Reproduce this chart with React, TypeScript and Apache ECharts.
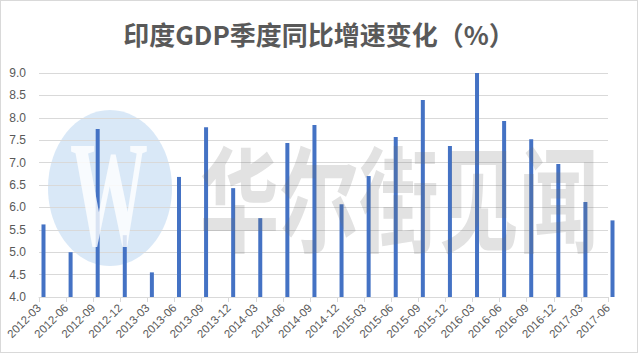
import React, { useEffect, useRef } from "react";
import * as echarts from "echarts";

const categories = [
  "2012-03", "2012-06", "2012-09", "2012-12",
  "2013-03", "2013-06", "2013-09", "2013-12",
  "2014-03", "2014-06", "2014-09", "2014-12",
  "2015-03", "2015-06", "2015-09", "2015-12",
  "2016-03", "2016-06", "2016-09", "2016-12",
  "2017-03", "2017-06",
];

const gdpGrowth = [
  5.62, 5.0, 7.75, 5.38,
  4.55, 6.68, 7.79, 6.43,
  5.76, 7.44, 7.84, 6.07,
  6.7, 7.57, 8.4, 7.37,
  9.0, 7.93, 7.52, 6.97,
  6.12, 5.71,
];

const yTicks = { min: 4, max: 9, interval: 0.5 };

const titleText = "印度GDP季度同比增速变化（%）";
const watermarkText = "华尔街见闻";

export default function App() {
  const ref = useRef<HTMLDivElement>(null);

  useEffect(() => {
    document.body.style.margin = "0";
    if (!ref.current) return;
    const chart = echarts.init(ref.current, undefined, { renderer: "svg" });
    chart.setOption({
      animation: false,
      backgroundColor: "#ffffff",
      title: {
        text: titleText,
        left: "center",
        top: 14,
        textStyle: {
          fontFamily: "Noto Sans CJK SC",
          fontSize: 26,
          fontWeight: "bold",
          color: "#595959",
        },
      },
      grid: { left: 38, right: 29, top: 72, bottom: 55 },
      xAxis: {
        type: "category",
        data: categories,
        boundaryGap: false,
        axisLine: { show: true, lineStyle: { color: "#d9d9d9", width: 1 } },
        axisTick: { show: true, length: 5, lineStyle: { color: "#d9d9d9" } },
        axisLabel: {
          rotate: 45,
          interval: 0,
          margin: 9,
          fontSize: 11.5,
          color: "#595959",
          fontFamily: "Liberation Sans",
        },
      },
      yAxis: {
        type: "value",
        min: yTicks.min,
        max: yTicks.max,
        interval: yTicks.interval,
        axisLine: { show: false },
        axisTick: { show: false },
        axisLabel: {
          margin: 13,
          fontSize: 12,
          color: "#595959",
          fontFamily: "Liberation Sans",
          formatter: (v: number) => v.toFixed(1),
        },
        splitLine: { lineStyle: { color: "#d9d9d9", width: 1 } },
      },
      series: [
        {
          name: "spacer",
          type: "bar",
          barWidth: 9,
          barGap: "0%",
          data: categories.map(() => "-"),
          silent: true,
        },
        {
          name: "GDP同比",
          type: "bar",
          barWidth: 4,
          barGap: "0%",
          itemStyle: { color: "#4472c4" },
          data: gdpGrowth,
        },
      ],
      graphic: [
        {
          type: "ellipse",
          shape: { cx: 109, cy: 187, rx: 62, ry: 78 },
          style: { fill: "rgba(170,205,238,0.45)" },
          z: -10,
          silent: true,
        },
        {
          type: "text",
          x: 108,
          y: 193,
          scaleX: 0.52,
          style: {
            text: "W",
            font: "bold 150px 'Liberation Serif'",
            fill: "rgba(255,255,255,0.8)",
            textAlign: "center",
            textVerticalAlign: "middle",
          },
          z: 101,
          silent: true,
        },
        {
          type: "text",
          x: 398,
          y: 192,
          scaleX: 0.7,
          style: {
            text: watermarkText,
            font: "bold 114px 'Noto Sans CJK SC'",
            fill: "rgba(110,110,110,0.2)",
            textAlign: "center",
            textVerticalAlign: "middle",
          },
          z: 101,
          silent: true,
        },
      ],
    });
    return () => chart.dispose();
  }, []);

  return (
    <div
      style={{
        width: 638,
        height: 353,
        boxSizing: "border-box",
        border: "1px solid #d9d9d9",
      }}
    >
      <div ref={ref} style={{ width: 636, height: 351 }} />
    </div>
  );
}
